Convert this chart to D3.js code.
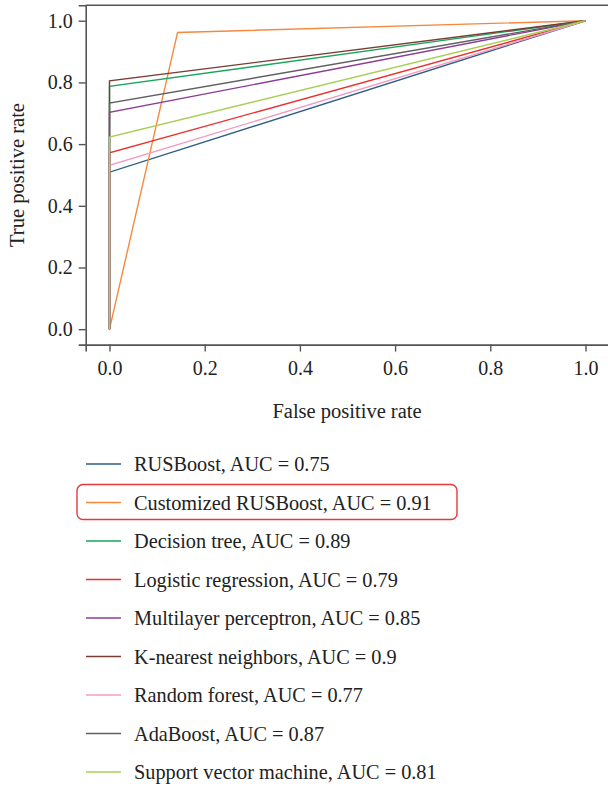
<!DOCTYPE html>
<html>
<head>
<meta charset="utf-8">
<script src="https://cdn.jsdelivr.net/npm/d3@7"></script>
<style>
  body { margin: 0; background: #fff; }
  svg { display: block; }
  text { font-family: "Liberation Serif", "DejaVu Serif", serif; fill: #222; }
</style>
</head>
<body>
<script>
// ROC data: each model has one operating point
var models = ["RUSBoost", "Customized RUSBoost", "Decision tree", "Logistic regression",
              "Multilayer perceptron", "K-nearest neighbors", "Random forest", "AdaBoost",
              "Support vector machine"];
var aucs = ["0.75", "0.91", "0.89", "0.79", "0.85", "0.9", "0.77", "0.87", "0.81"];
var fprPoint = [0, 0.143, 0, 0, 0, 0, 0, 0, 0];
var tprPoint = [0.509, 0.962, 0.787, 0.572, 0.703, 0.805, 0.531, 0.733, 0.623];
var colors = ["#2c5e87", "#f5893f", "#1aa55c", "#ec2f2c", "#8b3c95", "#7a3b33",
              "#f39bc2", "#606060", "#a7cf55"];
var ticks = [0, 0.2, 0.4, 0.6, 0.8, 1.0];
var highlighted = 1;

var svgWidth = 608, svgHeight = 788;
var svg = d3.select("body").append("svg")
  .attr("width", svgWidth).attr("height", svgHeight);

var xScale = d3.scaleLinear().domain([-0.05, 1.05]).range([85.7, 609.3]);
var yScale = d3.scaleLinear().domain([-0.05, 1.05]).range([344.6, 5.3]);

//curves: (0,0) -> operating point -> (1,1)
var curves = models.map(function(m, i){
  return [[0, 0], [fprPoint[i], tprPoint[i]], [1, 1]];
});

var line = d3.line()
  .x(function(d){ return xScale(d[0]); })
  .y(function(d){ return yScale(d[1]); });

curves.forEach(function(c, i){
  svg.append("path")
    .datum(c)
    .attr("fill", "none")
    .attr("stroke", colors[i])
    .attr("stroke-width", 1.4)
    .attr("d", line);
});

// axes
var xAxis = svg.append("g")
  .attr("transform", "translate(0," + yScale(-0.05) + ")")
  .call(d3.axisBottom(xScale).tickValues(ticks).tickFormat(d3.format(".1f")).tickSizeOuter(0).tickSize(7).tickPadding(9));
var yAxis = svg.append("g")
  .attr("transform", "translate(" + xScale(-0.05) + ",0)")
  .call(d3.axisLeft(yScale).tickValues(ticks).tickFormat(d3.format(".1f")).tickSizeOuter(0).tickSize(7).tickPadding(6));
[xAxis, yAxis].forEach(function(a){
  a.select(".domain").attr("stroke", "#555").attr("stroke-width", 1.6);
  a.selectAll(".tick line").attr("stroke", "#555").attr("stroke-width", 1.4);
  a.selectAll(".tick text").style("font-family", "Liberation Serif").style("font-size", "20px").attr("fill", "#222");
});
// top spine
svg.append("line")
  .attr("x1", xScale(-0.05)).attr("x2", xScale(1.05))
  .attr("y1", yScale(1.05)).attr("y2", yScale(1.05))
  .attr("stroke", "#555").attr("stroke-width", 1.6);

svg.append("text")
  .attr("x", 347).attr("y", 418)
  .attr("text-anchor", "middle").style("font-size", "20.5px")
  .text("False positive rate");
svg.append("text")
  .attr("transform", "translate(24,175) rotate(-90)")
  .attr("text-anchor", "middle").style("font-size", "20.5px")
  .text("True positive rate");

// legend
var legend = svg.append("g");
var rowY = d3.scaleLinear().domain([0, models.length - 1]).range([464, 772]);
models.forEach(function(m, i){
  var y = rowY(i);
  if (i === highlighted) {
    legend.append("rect")
      .attr("x", 77).attr("y", y - 18).attr("width", 380).attr("height", 35)
      .attr("rx", 6).attr("fill", "none")
      .attr("stroke", "#e8383d").attr("stroke-width", 1.4);
  }
  legend.append("line")
    .attr("x1", 86).attr("x2", 121).attr("y1", y).attr("y2", y)
    .attr("stroke", colors[i]).attr("stroke-width", 1.4);
  legend.append("text")
    .attr("x", 134).attr("y", y).attr("dy", "0.35em")
    .style("font-size", "20.3px")
    .text(m + ", AUC = " + aucs[i]);
});
</script>
</body>
</html>
